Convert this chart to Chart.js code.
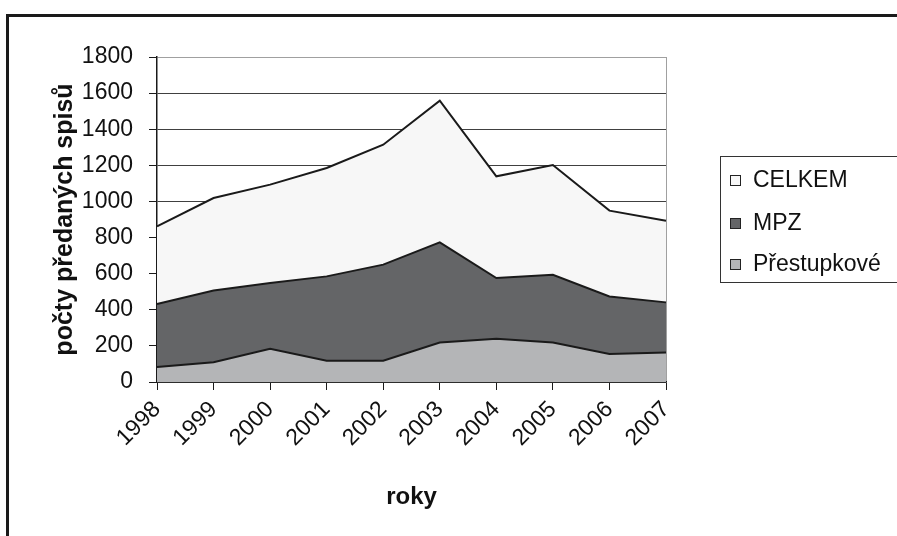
<!DOCTYPE html>
<html>
<head>
<meta charset="utf-8">
<script src="https://cdn.jsdelivr.net/npm/chart.js@4"></script>
<style>
  html, body { margin: 0; padding: 0; background: #fff; }
  #wrap { position: relative; width: 897px; height: 536px; overflow: hidden; }
  #frame { position: absolute; left: 6px; top: 14px; width: 950px; height: 600px;
           border-left: 3px solid #1a1a1a; border-top: 3px solid #1a1a1a; }
  #legend { position: absolute; left: 720px; top: 156px; width: 220px; height: 125px;
            border: 1px solid #333; font-family: "Liberation Sans", Arial, sans-serif;
            font-size: 23px; color: #111; }
  #legend .item { position: absolute; left: 9px; height: 26px; line-height: 26px; white-space: nowrap; }
  #legend .box { display: inline-block; width: 9px; height: 9px; border: 1px solid #222;
                 margin-right: 12px; vertical-align: 1px; }
</style>
</head>
<body>
<div id="wrap">
  <div id="frame"></div>
  <canvas id="myChart" width="897" height="536"></canvas>
  <div id="legend"></div>
</div>
<script>
// roky a pocty spisu
var years = ['1998', '1999', '2000', '2001', '2002', '2003', '2004', '2005', '2006', '2007'];
var celkem = [862, 1019, 1093, 1185, 1314, 1558, 1139, 1202, 949, 893];
var mpz = [432, 507, 548, 585, 650, 773, 576, 594, 474, 441];
var prestupkove = [83, 109, 184, 118, 118, 219, 240, 219, 155, 164];
var seriesNames = ['CELKEM', 'MPZ', 'Přestupkové'];
var seriesColors = ['#f7f7f7', '#646567', '#b4b5b7'];
var yMax = 1800;
var yStep = 200;

var font = "'Liberation Sans', Arial, sans-serif";

// legenda (poradi jako v originale)
var legend = document.getElementById('legend');
var tops = [9, 52, 93];
for (var i = 0; i < seriesNames.length; i++) {
  var it = document.createElement('div');
  it.className = 'item';
  it.style.top = tops[i] + 'px';
  it.innerHTML = '<span class="box" style="background:' + seriesColors[i] + '"></span>' + seriesNames[i];
  legend.appendChild(it);
}

function area(label, data, color) {
  return {
    label: label,
    data: data,
    backgroundColor: color,
    borderColor: '#1a1a1a',
    borderWidth: 2,
    fill: 'origin',
    tension: 0,
    pointRadius: 0
  };
}

var ctx = document.getElementById('myChart').getContext('2d');
var myChart = new Chart(ctx, {
  type: 'line',
  data: {
    labels: years,
    // posledni dataset se kresli jako prvni (vzadu)
    datasets: [
      area(seriesNames[2], prestupkove, seriesColors[2]),
      area(seriesNames[1], mpz, seriesColors[1]),
      area(seriesNames[0], celkem, seriesColors[0])
    ]
  },
  options: {
    responsive: false,
    animation: false,
    layout: { padding: { left: 50, right: 231, top: 57, bottom: 0 } },
    plugins: { legend: { display: false }, tooltip: { enabled: false } },
    scales: {
      x: {
        offset: false,
        afterFit: function (s) { s.height = 154; },
        grid: {
          drawOnChartArea: true,
          color: function (c) { return c.index === years.length - 1 ? '#a0a0a0' : 'rgba(0,0,0,0)'; },
          tickColor: '#1a1a1a',
          tickLength: 8
        },
        border: { color: '#1a1a1a', width: 1.5 },
        ticks: {
          minRotation: 45, maxRotation: 45, padding: 6,
          color: '#111', font: { family: font, size: 23 }
        },
        title: {
          display: true, text: 'roky', color: '#111',
          font: { family: font, size: 24, weight: 'bold' },
          padding: { top: 0, bottom: 24 }
        }
      },
      y: {
        min: 0,
        max: yMax,
        afterFit: function (s) { s.width = 107; },
        grid: {
          color: function (c) { return c.tick && c.tick.value === yMax ? '#a0a0a0' : '#404040'; },
          tickColor: '#1a1a1a',
          tickLength: 8
        },
        border: { color: '#1a1a1a', width: 1.5 },
        ticks: {
          stepSize: yStep, padding: 16,
          color: '#111', font: { family: font, size: 23 },
          callback: function (v) { return String(v); }
        },
        title: {
          display: true, text: 'počty předaných spisů', color: '#111',
          font: { family: font, size: 25, weight: 'bold' },
          padding: { top: 0, bottom: 0 }
        }
      }
    }
  }
});
</script>
</body>
</html>
